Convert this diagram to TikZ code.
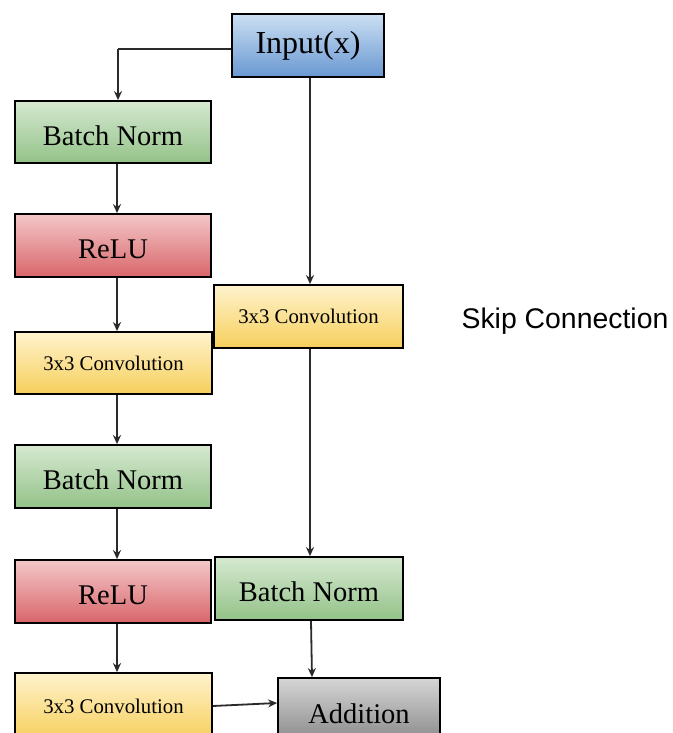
\documentclass[tikz,border=0pt]{standalone}
\usepackage{fontspec}
\setmainfont{Liberation Serif}
\newfontfamily\labelsans{Liberation Sans}
\usetikzlibrary{arrows.meta}

\definecolor{blueT}{HTML}{CCDFF3}
\definecolor{blueB}{HTML}{6898D1}
\definecolor{greenT}{HTML}{D6E9D1}
\definecolor{greenB}{HTML}{93C288}
\definecolor{redT}{HTML}{F4C7C9}
\definecolor{redB}{HTML}{D8666A}
\definecolor{yelT}{HTML}{FFF3CD}
\definecolor{yelB}{HTML}{F6CF5C}
\definecolor{grayT}{HTML}{D6D6D6}
\definecolor{grayB}{HTML}{808080}
\definecolor{lineC}{HTML}{2A2A2A}

\tikzset{
  blk/.style={draw=black, line width=1.8pt, inner sep=0pt, anchor=center},
  bluebox/.style={blk, top color=blueT, bottom color=blueB},
  greenbox/.style={blk, top color=greenT, bottom color=greenB},
  redbox/.style={blk, top color=redT, bottom color=redB},
  yelbox/.style={blk, top color=yelT, bottom color=yelB},
  graybox/.style={blk, top color=grayT, bottom color=grayB},
  bigfont/.style={font=\fontsize{28.5}{30}\selectfont},
  big/.style={bigfont, text height=26.8pt, text depth=0pt},
  small/.style={font=\fontsize{20.8}{23}\selectfont},
  arr/.style={draw=lineC, line width=1.8pt, -{Stealth[length=9pt,width=8pt]}},
  lnk/.style={draw=lineC, line width=1.8pt},
}

\begin{document}
\begin{tikzpicture}[x=1pt, y=-1pt]
\useasboundingbox (0,0) rectangle (672,733);
\clip (0,0) rectangle (672,733);
\fill[white] (0,0) rectangle (672,733);

% main path, left column
\node[bluebox, minimum width=152pt, minimum height=63pt,
      font=\fontsize{32}{34}\selectfont] (inp) at (308,45.5) {Input(x)};
\node[greenbox, big, minimum width=196pt, minimum height=62pt] (bn1) at (113,132) {Batch Norm};
\node[redbox, big, minimum width=196pt, minimum height=63pt] (relu1) at (113,245.5) {ReLU};
\node[yelbox, small, minimum width=197pt, minimum height=62pt] (cv1) at (113.5,363) {3x3 Convolution};
\node[greenbox, big, minimum width=196pt, minimum height=63pt] (bn2) at (113,476.5) {Batch Norm};
\node[redbox, big, minimum width=196pt, minimum height=63pt] (relu2) at (113,591.5) {ReLU};
\node[yelbox, small, minimum width=197pt, minimum height=66pt] (cv2) at (113.5,706) {3x3 Convolution};

% skip path, right column
\node[yelbox, small, minimum width=189pt, minimum height=63pt] (cvs) at (308.5,316.5) {3x3 Convolution};
\node[greenbox, big, minimum width=188pt, minimum height=63pt] (bns) at (309,588.5) {Batch Norm};
\node[graybox, bigfont, minimum width=162pt, minimum height=72pt] (add) at (359,714) {Addition};

\node[font=\labelsans\fontsize{28.4}{30}\selectfont, anchor=center] (skip) at (565,321) {Skip Connection};

% connectors
\coordinate (turn) at (118,49);
\draw[lnk] (inp.west |- turn) -- (turn);
\draw[arr] (turn) -- (turn |- bn1.north);
\draw[arr] ([xshift=4pt]bn1.south) -- ([xshift=4pt]relu1.north);
\draw[arr] ([xshift=4pt]relu1.south) -- ([xshift=3.5pt]cv1.north);
\draw[arr] ([xshift=3.5pt]cv1.south) -- ([xshift=4pt]bn2.north);
\draw[arr] ([xshift=4pt]bn2.south) -- ([xshift=4pt]relu2.north);
\draw[arr] ([xshift=4pt]relu2.south) -- ([xshift=3.5pt]cv2.north);

\draw[arr] ([xshift=2pt]inp.south) -- ([xshift=1.5pt]cvs.north);
\draw[arr] ([xshift=1.5pt]cvs.south) -- ([xshift=1pt]bns.north);
\draw[arr] ([xshift=2pt]bns.south) -- (add.north -| 312,0);
\draw[arr] (cv2.east |- 0,706) -- (add.west |- 0,703);
\end{tikzpicture}
\end{document}
